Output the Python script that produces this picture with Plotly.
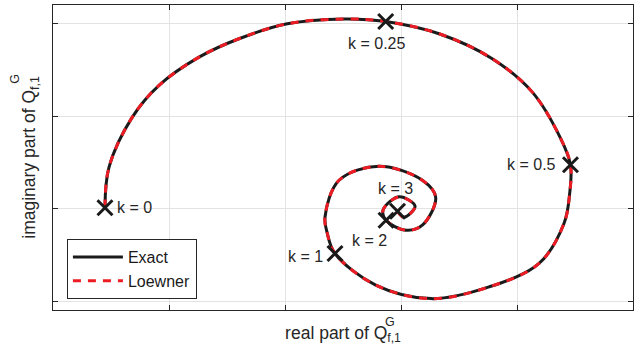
import plotly.graph_objects as go

# Frequency response Q^G_{f,1} traced in the complex plane (k = 0 ... 3)
re_q = [-0.2552, -0.2517, -0.2316, -0.2086, -0.1741, -0.1397, -0.0980, -0.0491,
        -0.0132, 0.0328, 0.0787, 0.1132, 0.1377, 0.1461, 0.1454, 0.1405,
        0.1190, 0.0759, 0.0259, -0.0218, -0.0569, -0.0635, -0.0655, -0.0534,
        -0.0190, 0.0184, 0.0299, 0.0184, 0.0041, -0.0129, -0.0155, -0.0017,
        0.0121, 0.0026, -0.0030]
im_q = [0.0009, 0.0449, 0.0989, 0.1332, 0.1637, 0.1836, 0.1998, 0.2050,
        0.2023, 0.1890, 0.1620, 0.1259, 0.0756, 0.0473, 0.0162, -0.0162,
        -0.0594, -0.0847, -0.0974, -0.0828, -0.0486, -0.0270, -0.0091, 0.0306,
        0.0457, 0.0306, 0.0122, -0.0180, -0.0234, -0.0126, -0.0018, 0.0127,
        0.0025, -0.0094, -0.0029]

# Loewner approximation (coincides with the exact curve at this resolution)
re_loewner = list(re_q)
im_loewner = list(im_q)

# Marked parameter values and where they sit on the curve
k_labels = ["k = 0", "k = 0.25", "k = 0.5", "k = 1", "k = 2", "k = 3"]
k_re = [-0.2552, -0.0132, 0.1461, -0.0569, -0.0129, -0.0030]
k_im = [0.0009, 0.2023, 0.0473, -0.0486, -0.0126, -0.0029]

x_ticks = [-0.3, -0.2, -0.1, 0.0, 0.1, 0.2]
y_ticks = [-0.1, 0.0, 0.1, 0.2]

FONT = "Liberation Sans, Arial, sans-serif"
INK = "#262626"

fig = go.Figure()
fig.add_trace(go.Scatter(x=re_q, y=im_q, mode="lines", name="Exact",
                         line=dict(color="#1a1a1a", width=3, shape="spline", smoothing=1.0)))
fig.add_trace(go.Scatter(x=re_loewner, y=im_loewner, mode="lines", name="Loewner",
                         line=dict(color="#ed1c24", width=3, dash="8px,7px",
                                   shape="spline", smoothing=1.0)))
fig.add_trace(go.Scatter(x=k_re, y=k_im, mode="markers", showlegend=False,
                         marker=dict(symbol="x-thin", size=15, color="#1a1a1a",
                                     line=dict(width=3, color="#1a1a1a"))))

# label placement relative to each marker
offsets = [
    dict(xanchor="left", yanchor="middle", xshift=10, yshift=0),
    dict(xanchor="center", yanchor="top", xshift=-9, yshift=-12),
    dict(xanchor="right", yanchor="middle", xshift=-12, yshift=0),
    dict(xanchor="right", yanchor="middle", xshift=-10, yshift=-3),
    dict(xanchor="center", yanchor="top", xshift=-17, yshift=-10),
    dict(xanchor="center", yanchor="bottom", xshift=-2, yshift=12),
]
for lbl, xv, yv, off in zip(k_labels, k_re, k_im, offsets):
    fig.add_annotation(x=xv, y=yv, text=lbl, showarrow=False,
                       font=dict(family=FONT, size=16, color=INK), **off)

# stacked superscript "G" above the subscripts of the axis titles
fig.add_annotation(xref="paper", yref="paper", x=0.569, y=-0.040, text="G",
                   showarrow=False, xanchor="left", yanchor="middle",
                   font=dict(family=FONT, size=12.5, color=INK))
fig.add_annotation(xref="paper", yref="paper", x=-0.066, y=0.757, text="G",
                   showarrow=False, textangle=-90, xanchor="center", yanchor="middle",
                   font=dict(family=FONT, size=12.5, color=INK))

axis_common = dict(showticklabels=False, ticks="inside", ticklen=5, tickwidth=1,
                   tickcolor=INK, showline=True, linecolor=INK, linewidth=1,
                   mirror="ticks", showgrid=True, gridcolor="#e3e3e3", gridwidth=1,
                   zeroline=False)

fig.update_xaxes(range=[-0.3, 0.2], tickvals=x_ticks,
                 title=dict(text="real part of Q<sub>f,1</sub>", standoff=16,
                            font=dict(family=FONT, size=17.5, color=INK)),
                 **axis_common)
fig.update_yaxes(range=[-0.1097, 0.2201], tickvals=y_ticks,
                 title=dict(text="imaginary part of Q<sub>f,1</sub>", standoff=11,
                            font=dict(family=FONT, size=17.5, color=INK)),
                 **axis_common)

fig.update_layout(
    width=635, height=352,
    margin=dict(l=53, r=2, t=5, b=42),
    plot_bgcolor="white", paper_bgcolor="white",
    showlegend=True,
    legend=dict(x=0.024, y=0.036, xanchor="left", yanchor="bottom",
                bgcolor="white", bordercolor=INK, borderwidth=1,
                font=dict(family=FONT, size=16, color="#1a1a1a"),
                itemwidth=50, tracegroupgap=0),
)

fig.write_html("out.html")
